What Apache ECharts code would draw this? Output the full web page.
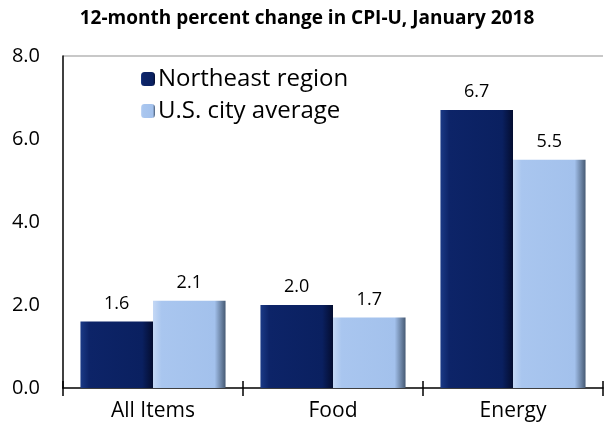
<!DOCTYPE html>
<html>
<head>
<meta charset="utf-8">
<script src="https://cdn.jsdelivr.net/npm/echarts@6/dist/echarts.min.js"></script>
<style>html,body{margin:0;padding:0;background:#fff}#c{width:604px;height:430px}</style>
</head>
<body>
<div id="c"></div>
<script>
const categories = ['All Items', 'Food', 'Energy'];
const northeast = [1.6, 2.0, 6.7];
const usAverage = [2.1, 1.7, 5.5];
const seriesNames = ['Northeast region', 'U.S. city average'];
const titleText = '12-month percent change in CPI-U, January 2018';

const darkGrad = new echarts.graphic.LinearGradient(0, 0, 1, 0, [
  {offset: 0, color: '#1b3a86'}, {offset: 0.12, color: '#0d2468'},
  {offset: 0.85, color: '#0a2060'}, {offset: 1, color: '#040d30'}
]);
const lightGrad = new echarts.graphic.LinearGradient(0, 0, 1, 0, [
  {offset: 0, color: '#c4d8f5'}, {offset: 0.12, color: '#a9c6ef'},
  {offset: 0.85, color: '#a3c1ec'}, {offset: 1, color: '#465a74'}
]);
const font = '"Open Sans", sans-serif';
const chart = echarts.init(document.getElementById('c'), null, {renderer: 'canvas'});
chart.setOption({
  animation: false,
  title: {text: titleText, left: 302, textAlign: 'center', top: 4,
    textStyle: {fontFamily: font, fontWeight: 'bold', fontSize: 19, color: '#000'}},
  legend: {orient: 'vertical', left: 136, top: 62, itemWidth: 14, itemHeight: 14, itemGap: 8,
    textStyle: {fontFamily: font, fontSize: 24, lineHeight: 24, color: '#000', padding: [0, 0, 0, -2]},
    data: seriesNames},
  grid: {left: 63, right: 1, top: 56, bottom: 42},
  xAxis: [{type: 'category', data: categories,
    axisLine: {lineStyle: {color: '#000', width: 1.5}},
    axisTick: {show: true, length: 8, lineStyle: {color: '#000', width: 1.5}},
    axisLabel: {fontFamily: font, fontSize: 21, color: '#000', margin: 13}},
   {type: 'category', data: categories, position: 'bottom',
    axisLine: {show: false}, axisLabel: {show: false},
    axisTick: {show: true, inside: true, length: 7, lineStyle: {color: '#000', width: 1.5}}}],
  yAxis: {type: 'value', min: 0, max: 8, interval: 2,
    axisLine: {show: true, lineStyle: {color: '#000', width: 1.5}},
    axisTick: {show: false},
    axisLabel: {fontFamily: font, fontSize: 20, color: '#000', margin: 23,
      formatter: v => v.toFixed(1)},
    splitLine: {show: true, lineStyle: {color: ['transparent', 'transparent', 'transparent', 'transparent', '#c8c8c8'], width: 2}}},
  series: [
    {name: seriesNames[0], type: 'bar', data: northeast, barGap: '0%', barCategoryGap: '19.4%',
     itemStyle: {color: darkGrad},
     label: {show: true, position: 'top', distance: 9, fontFamily: font, fontSize: 18, color: '#000',
       formatter: p => p.value.toFixed(1)}},
    {name: seriesNames[1], type: 'bar', data: usAverage, barGap: '0%', barCategoryGap: '19.4%',
     itemStyle: {color: lightGrad},
     label: {show: true, position: 'top', distance: 9, fontFamily: font, fontSize: 18, color: '#000',
       formatter: p => p.value.toFixed(1)}}
  ]
});
</script>
</body>
</html>
